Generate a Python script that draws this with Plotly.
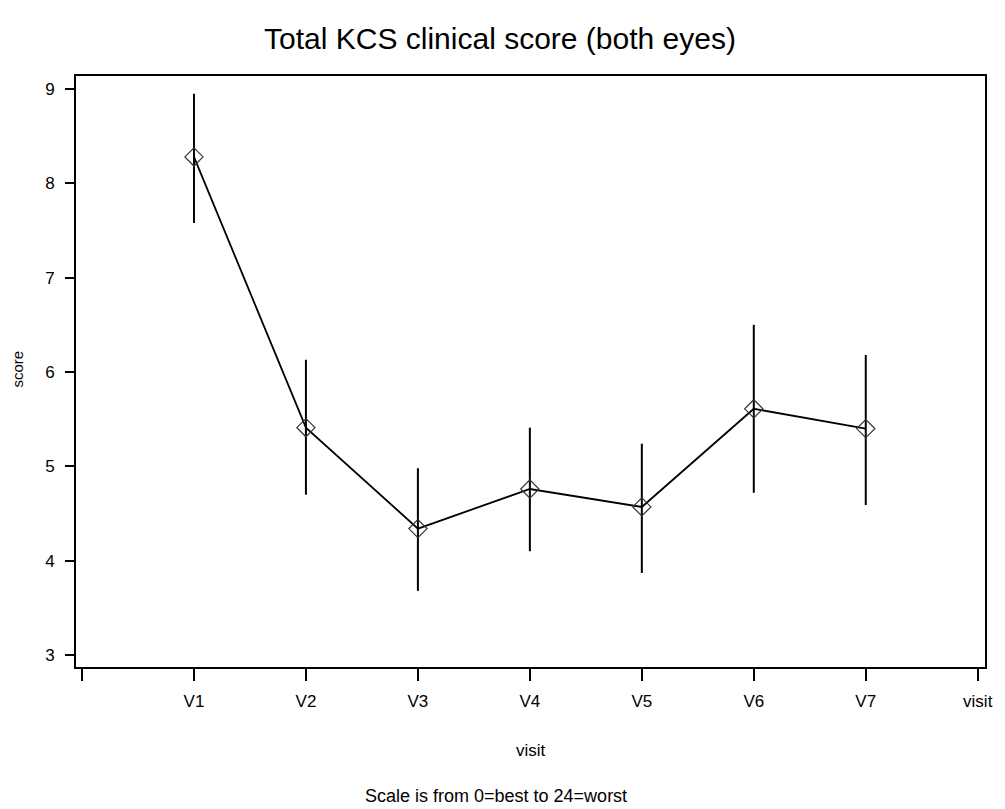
import plotly.graph_objects as go

# ---- data ----
tick_labels = ["", "V1", "V2", "V3", "V4", "V5", "V6", "V7", "visit"]
visits = ["V1", "V2", "V3", "V4", "V5", "V6", "V7"]
mean_score = [8.28, 5.41, 4.34, 4.76, 4.57, 5.61, 5.40]
upper = [8.95, 6.13, 4.98, 5.41, 5.24, 6.50, 6.18]
lower = [7.58, 4.70, 3.68, 4.10, 3.87, 4.72, 4.59]

x_pos = [tick_labels.index(v) for v in visits]
err_plus = [u - m for u, m in zip(upper, mean_score)]
err_minus = [m - l for m, l in zip(mean_score, lower)]

FONT = "Liberation Sans, Arial, sans-serif"

fig = go.Figure()
fig.add_trace(go.Scatter(
    x=x_pos, y=mean_score, mode="lines+markers",
    line=dict(color="black", width=1.8),
    marker=dict(symbol="diamond-open", size=14, color="#333333",
                line=dict(width=1.2, color="#333333")),
    error_y=dict(type="data", symmetric=False, array=err_plus,
                 arrayminus=err_minus, width=0, thickness=2, color="black"),
    showlegend=False,
))

W, H = 1005, 809
L, R, T, B = 76, 12, 76, 142

fig.update_layout(
    width=W, height=H,
    margin=dict(l=L, r=R, t=T, b=B),
    paper_bgcolor="white", plot_bgcolor="white",
    font=dict(family=FONT, color="black"),
    title=dict(text="Total KCS clinical score (both eyes)",
               font=dict(size=30, family=FONT, color="black"),
               x=500 / W, xanchor="center", yref="container",
               y=(H - 38) / H, yanchor="middle"),
    xaxis=dict(range=[-0.0536, 8.065], tickmode="array",
               tickvals=list(range(len(tick_labels))), ticktext=tick_labels,
               ticks="outside", ticklen=12, tickwidth=2, tickcolor="black",
               showline=True, linecolor="black", linewidth=2, mirror=True,
               showgrid=False, zeroline=False,
               tickfont=dict(size=17, family=FONT), ticklabelstandoff=6),
    yaxis=dict(range=[2.873, 9.138], tickmode="array",
               tickvals=[3, 4, 5, 6, 7, 8, 9],
               ticks="outside", ticklen=9, tickwidth=2, tickcolor="black",
               showline=True, linecolor="black", linewidth=2, mirror=True,
               showgrid=False, zeroline=False,
               tickfont=dict(size=17, family=FONT), ticklabelstandoff=7),
)

pw, ph = W - L - R, H - T - B
fig.add_annotation(text="visit", xref="paper", yref="paper",
                   x=0.5, y=(H - B - 750) / ph, showarrow=False,
                   xanchor="center", yanchor="middle",
                   font=dict(size=17, family=FONT))
fig.add_annotation(text="Scale is from 0=best to 24=worst", xref="paper", yref="paper",
                   x=(500 - L) / pw, y=(H - B - 796) / ph, showarrow=False,
                   xanchor="center", yanchor="middle",
                   font=dict(size=18, family=FONT))
fig.add_annotation(text="score", xref="paper", yref="paper",
                   x=(16 - L) / pw, y=(H - B - 369) / ph, showarrow=False,
                   xanchor="center", yanchor="middle", textangle=-90,
                   font=dict(size=15, family=FONT))

fig.write_html("out.html")
